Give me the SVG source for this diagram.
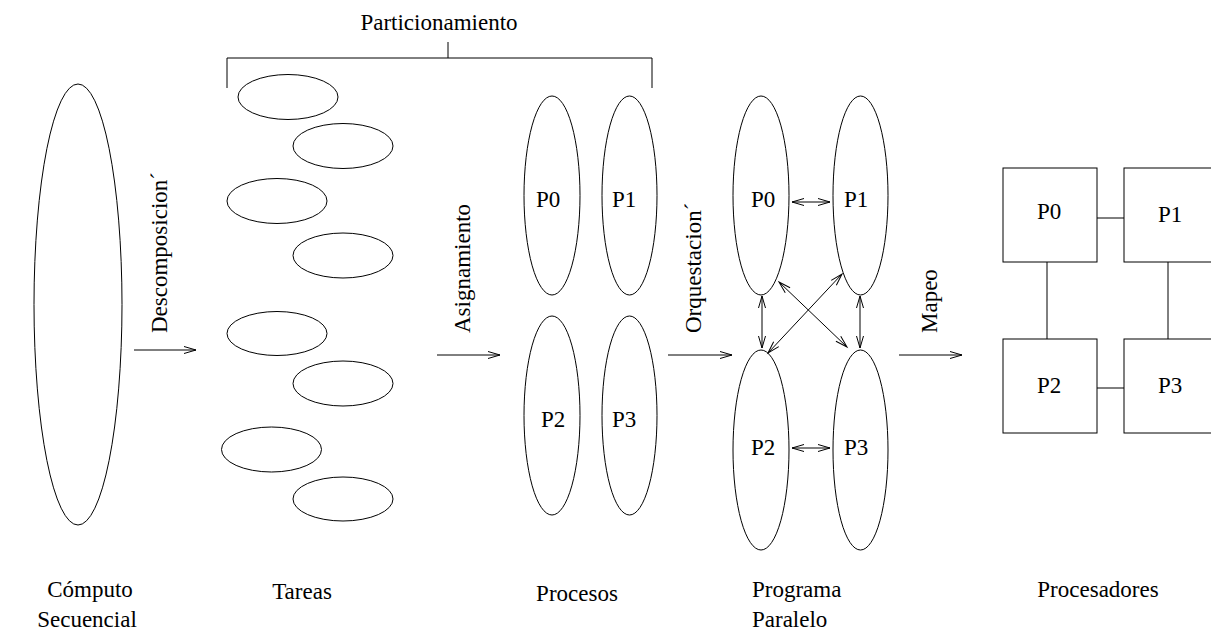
<svg xmlns="http://www.w3.org/2000/svg" width="1211" height="631" viewBox="0 0 1211 631">
<style>
text{font-family:"Liberation Serif","Times New Roman",serif;font-size:23px;fill:#000}
.s{fill:none;stroke:#000;stroke-width:1}
</style>
<defs>
<marker id="ah" markerWidth="14" markerHeight="8" refX="12" refY="3.5" orient="auto-start-reverse" markerUnits="userSpaceOnUse" overflow="visible"><path d="M0,0 L12,3.5 L0,7" fill="none" stroke="#000" stroke-width="1"/></marker>
</defs>
<rect width="1211" height="631" fill="#fff"/>
<g id="secuencial">
<ellipse class="s" cx="78" cy="304.5" rx="44" ry="220.5"/>
<text x="90" y="597" text-anchor="middle">Cómputo</text>
<text x="87" y="627" text-anchor="middle">Secuencial</text>
</g>
<g id="particionamiento">
<path class="s" d="M227,88 V58 H652 V88 M448,58 V42"/>
<text x="439" y="30" text-anchor="middle">Particionamiento</text>
</g>
<g id="tareas">
<ellipse class="s" cx="288" cy="97" rx="50" ry="22.5"/>
<ellipse class="s" cx="343" cy="146" rx="50" ry="22.5"/>
<ellipse class="s" cx="277" cy="201" rx="50" ry="22.5"/>
<ellipse class="s" cx="343" cy="255.5" rx="50" ry="22.5"/>
<ellipse class="s" cx="277" cy="333.5" rx="50" ry="22"/>
<ellipse class="s" cx="343" cy="383.5" rx="50" ry="22.5"/>
<ellipse class="s" cx="271.5" cy="449.5" rx="50" ry="22.5"/>
<ellipse class="s" cx="343" cy="499" rx="50" ry="22"/>
<text x="302" y="599" text-anchor="middle">Tareas</text>
</g>
<g id="procesos">
<ellipse class="s" cx="552" cy="195.5" rx="28" ry="99.5"/>
<ellipse class="s" cx="629.5" cy="195.5" rx="27.5" ry="99.5"/>
<ellipse class="s" cx="552" cy="415.5" rx="28" ry="99.5"/>
<ellipse class="s" cx="629.5" cy="415.5" rx="27.5" ry="99.5"/>
<text x="536" y="207">P0</text>
<text x="612" y="207">P1</text>
<text x="541" y="427">P2</text>
<text x="612" y="427">P3</text>
<text x="577" y="601" text-anchor="middle">Procesos</text>
</g>
<g id="programa">
<ellipse class="s" cx="761" cy="195.5" rx="28" ry="99.5"/>
<ellipse class="s" cx="860.5" cy="195.5" rx="27.5" ry="99.5"/>
<ellipse class="s" cx="761" cy="450" rx="28" ry="100"/>
<ellipse class="s" cx="860.5" cy="450" rx="27.5" ry="100"/>
<text x="751" y="207">P0</text>
<text x="844" y="207">P1</text>
<text x="751" y="455">P2</text>
<text x="844" y="455">P3</text>
<text x="752" y="597">Programa</text>
<text x="752" y="627">Paralelo</text>
</g>
<g id="procesadores">
<rect class="s" x="1003" y="168" width="94" height="94"/>
<rect class="s" x="1124" y="168" width="94" height="94"/>
<rect class="s" x="1003" y="339" width="94" height="94"/>
<rect class="s" x="1124" y="339" width="94" height="94"/>
<text x="1037" y="219">P0</text>
<text x="1158" y="222">P1</text>
<text x="1037" y="393">P2</text>
<text x="1158" y="393">P3</text>
<text x="1098" y="597" text-anchor="middle">Procesadores</text>
</g>
<g id="connectors">
<line class="s" x1="134" y1="350" x2="196" y2="350" marker-end="url(#ah)"/>
<line class="s" x1="437" y1="355" x2="500" y2="355" marker-end="url(#ah)"/>
<line class="s" x1="668" y1="355" x2="732" y2="355" marker-end="url(#ah)"/>
<line class="s" x1="899" y1="355" x2="962" y2="355" marker-end="url(#ah)"/>
<line class="s" x1="792" y1="202" x2="830" y2="202" marker-start="url(#ah)" marker-end="url(#ah)"/>
<line class="s" x1="792" y1="448" x2="830" y2="448" marker-start="url(#ah)" marker-end="url(#ah)"/>
<line class="s" x1="762" y1="296" x2="762" y2="348" marker-start="url(#ah)" marker-end="url(#ah)"/>
<line class="s" x1="860" y1="296" x2="860" y2="348" marker-start="url(#ah)" marker-end="url(#ah)"/>
<line class="s" x1="779" y1="282" x2="847" y2="347" marker-start="url(#ah)" marker-end="url(#ah)"/>
<line class="s" x1="842" y1="274" x2="768" y2="353" marker-start="url(#ah)" marker-end="url(#ah)"/>
<path class="s" d="M1097,218 H1124 M1097,388 H1124 M1047,262 V339 M1168,262 V339"/>
</g>
<g id="labels">
<text transform="translate(167,333) rotate(-90)">Descomposicion´</text>
<text transform="translate(470,333) rotate(-90)">Asignamiento</text>
<text transform="translate(701,333) rotate(-90)">Orquestacion´</text>
<text transform="translate(937,333) rotate(-90)">Mapeo</text>
</g>
</svg>
